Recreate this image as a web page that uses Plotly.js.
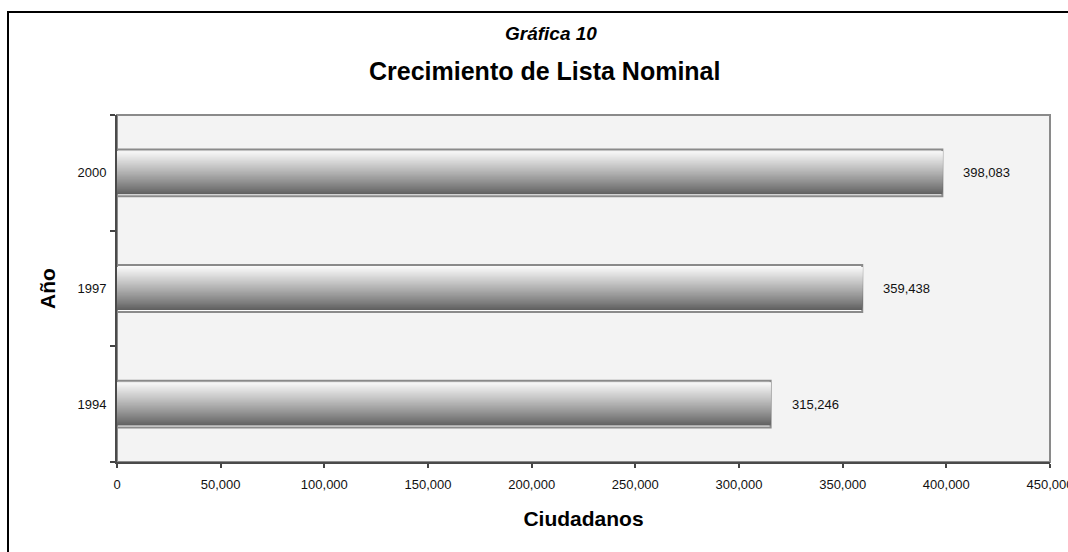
<!DOCTYPE html>
<html>
<head>
<meta charset="utf-8">
<script src="https://cdn.plot.ly/plotly-3.0.1.min.js"></script>
<style>
  body { margin: 0; overflow: hidden; background: #fff; }
  #myDiv { width: 1068px; height: 552px; }
</style>
</head>
<body>
<div id="myDiv"></div>
<script>
// data
const years = ["1994", "1997", "2000"];
const voters = [315246, 359438, 398083];
const valueLabels = ["315,246", "359,438", "398,083"];
const xTickVals = [0, 50000, 100000, 150000, 200000, 250000, 300000, 350000, 400000, 450000];

const FONT = "Liberation Sans, Arial, sans-serif";

// plot area in pixels
const L = 117, R = 18, T = 115, B = 90, W = 1068, H = 552;
const plotW = W - L - R, plotH = H - T - B;
const px2x = p => (p - L) / plotW;
const py2y = p => (H - B - p) / plotH;

// outline bar behind the shaded bar
const outline = {
  type: "bar",
  orientation: "h",
  x: voters,
  y: years,
  width: 0.405,
  marker: { color: "#fafafa", line: { color: "#8a8a8a", width: 2 } },
  hoverinfo: "skip",
};

// fake a vertical gradient: each layer starts a bit higher and runs to the top,
// lighter layers drawn over darker ones so there are no seams
const inner = 0.37;
const nStrips = 40;
const strip = inner / nStrips;
const strips = [];
for (let i = 0; i < nStrips; i++) {
  const t = i / (nStrips - 1); // 0 = bottom, 1 = top
  const g = Math.round(96 + (246 - 96) * Math.pow(t, 0.9));
  strips.push({
    type: "bar",
    orientation: "h",
    x: voters,
    y: years,
    width: inner - i * strip,
    offset: -inner / 2 + i * strip,
    marker: { color: `rgb(${g},${g},${g})`, line: { width: 0 } },
    hoverinfo: "skip",
  });
}

const data = [outline, ...strips];

// value labels; y given as category index (numeric-looking names confuse annotations)
const annotations = voters.map((v, k) => ({
  x: v,
  y: years.indexOf(years[k]),
  text: valueLabels[k],
  xanchor: "left",
  yanchor: "middle",
  xshift: 19,
  showarrow: false,
  font: { family: FONT, size: 13, color: "#111" },
}));

annotations.push({
  xref: "paper", yref: "paper",
  x: px2x(551), y: py2y(34),
  xanchor: "center", yanchor: "middle",
  text: "<b><i>Gráfica 10</i></b>",
  showarrow: false,
  font: { family: FONT, size: 19, color: "#000" },
});
annotations.push({
  xref: "paper", yref: "paper",
  x: px2x(544), y: py2y(71),
  xanchor: "center", yanchor: "middle",
  text: "<b>Crecimiento de Lista Nominal</b>",
  showarrow: false,
  font: { family: FONT, size: 25, color: "#000" },
});

const layout = {
  width: W,
  height: H,
  margin: { l: L, r: R, t: T, b: B, pad: 0 },
  paper_bgcolor: "#ffffff",
  plot_bgcolor: "#f3f3f3",
  showlegend: false,
  barmode: "overlay",
  hovermode: false,
  font: { family: FONT, size: 13, color: "#111" },
  xaxis: {
    range: [0, 450000],
    tickvals: xTickVals,
    tickformat: ",d",
    ticks: "outside",
    ticklen: 4,
    tickwidth: 2,
    tickcolor: "#444",
    ticklabeloverflow: "allow",
    ticklabelstandoff: 5,
    showline: true,
    linecolor: "#4a4a4a",
    linewidth: 2,
    showgrid: false,
    zeroline: false,
    tickfont: { family: FONT, size: 13, color: "#111" },
    title: {
      text: "<b>Ciudadanos</b>",
      font: { family: FONT, size: 21, color: "#000" },
      standoff: 21,
    },
  },
  yaxis: {
    type: "category",
    categoryorder: "array",
    categoryarray: years,
    range: [-0.5, years.length - 0.5],
    tickson: "boundaries",
    ticks: "outside",
    ticklen: 5,
    tickwidth: 2,
    tickcolor: "#444",
    ticklabelstandoff: 6,
    showline: true,
    linecolor: "#4a4a4a",
    linewidth: 2,
    showgrid: false,
    zeroline: false,
    tickfont: { family: FONT, size: 13, color: "#111" },
    title: {
      text: "<b>Año</b>",
      font: { family: FONT, size: 21, color: "#000" },
      standoff: 16,
    },
  },
  shapes: [
    {
      type: "rect", xref: "paper", yref: "paper", layer: "below",
      x0: 0, x1: 1, y0: 0, y1: 1,
      line: { color: "#8a8a8a", width: 2 },
    },
    {
      type: "rect", xref: "paper", yref: "paper", layer: "above",
      x0: px2x(8), x1: px2x(1090), y0: py2y(12), y1: py2y(575),
      line: { color: "#000", width: 2 },
    },
  ],
  annotations: annotations,
};

Plotly.newPlot("myDiv", data, layout, { staticPlot: true, displayModeBar: false });
</script>
</body>
</html>
